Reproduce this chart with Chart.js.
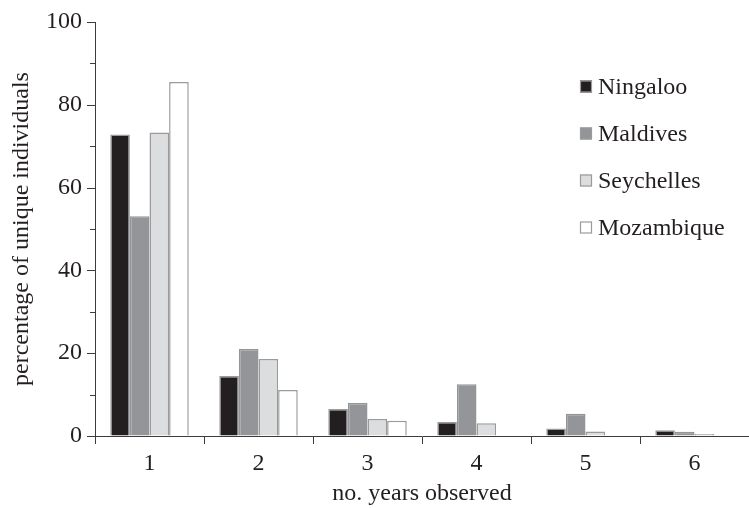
<!DOCTYPE html>
<html>
<head>
<meta charset="utf-8">
<script src="https://cdn.jsdelivr.net/npm/chart.js@4/dist/chart.umd.min.js"></script>
<style>
  html, body { margin: 0; padding: 0; background: #ffffff; }
  #wrap { width: 749px; height: 508px; position: relative; }
</style>
</head>
<body>
<div id="wrap"><canvas id="chart" width="749" height="508"></canvas></div>
<script>
// Years in which each individual was seen
const categories = ['1', '2', '3', '4', '5', '6'];

// Percentage of unique individuals per site
const ningaloo   = [72.8, 14.5, 6.5, 3.4, 1.8, 1.4];
const maldives   = [53.1, 21.0, 8.0, 12.5, 5.4, 1.0];
const seychelles = [73.3, 18.6, 4.1, 3.1, 1.1, 0.5];
const mozambique = [85.5, 11.1, 3.7, 0, 0, 0];

const seriesNames = ['Ningaloo', 'Maldives', 'Seychelles', 'Mozambique'];

const yMin = 0, yMax = 100, yMajorStep = 20, yMinorStep = 10;

const SERIF = '"Liberation Serif", "Times New Roman", serif';
const AXIS = '#3c3c3c';
const EDGE = '#9b9b9b';
const INK = '#231f20';

// Axis tick marks: long marks at labelled values, short ones between
const yTickMarks = {
  id: 'yTickMarks',
  afterDraw(chart) {
    const y = chart.scales.y;
    const ctx = chart.ctx;
    const x0 = y.right;
    ctx.save();
    ctx.strokeStyle = AXIS;
    ctx.lineWidth = 1;
    for (let v = yMin; v <= yMax; v += yMinorStep) {
      const py = Math.round(y.getPixelForValue(v)) + 0.5;
      const len = (v % yMajorStep === 0) ? 8 : 5;
      ctx.beginPath();
      ctx.moveTo(x0 - len, py);
      ctx.lineTo(x0, py);
      ctx.stroke();
    }
    ctx.restore();
  }
};

// Legend stacked inside the plot area on the right
const insideLegend = {
  id: 'insideLegend',
  afterDraw(chart) {
    const ctx = chart.ctx;
    const area = chart.chartArea;
    const boxX = area.left + 485;
    const firstY = area.top + 64.5;
    const gap = 47;
    const box = 12;
    ctx.save();
    ctx.font = '24px ' + SERIF;
    ctx.textBaseline = 'middle';
    ctx.textAlign = 'left';
    chart.data.datasets.forEach((ds, i) => {
      const cy = firstY + i * gap;
      ctx.fillStyle = ds.backgroundColor;
      ctx.fillRect(boxX, cy - box / 2, box, box);
      ctx.strokeStyle = EDGE;
      ctx.lineWidth = 1.2;
      ctx.strokeRect(boxX + 0.5, cy - box / 2 + 0.5, box - 1, box - 1);
      ctx.fillStyle = INK;
      ctx.fillText(ds.label, boxX + 18, cy + 1);
    });
    ctx.restore();
  }
};

const fills = ['#231f20', '#939598', '#dcdddf', '#ffffff'];
const values = [ningaloo, maldives, seychelles, mozambique];

new Chart(document.getElementById('chart'), {
  type: 'bar',
  data: {
    labels: categories,
    datasets: seriesNames.map((name, i) => ({
      label: name,
      data: values[i],
      backgroundColor: fills[i],
      borderColor: i === 1 ? fills[i] : EDGE,
      borderWidth: 1.5,
      categoryPercentage: 0.72,
      barPercentage: 1.0
    }))
  },
  options: {
    responsive: false,
    animation: false,
    devicePixelRatio: 1,
    layout: { padding: { top: 22, right: 0, bottom: 0, left: 0 } },
    plugins: {
      legend: { display: false },
      tooltip: { enabled: false }
    },
    scales: {
      x: {
        offset: true,
        grid: {
          offset: true,
          drawOnChartArea: false,
          drawTicks: true,
          tickLength: 8,
          color: AXIS
        },
        border: { display: true, color: AXIS, width: 1 },
        ticks: {
          color: INK,
          font: { family: SERIF, size: 24 },
          padding: 5,
          maxRotation: 0
        },
        title: {
          display: true,
          text: 'no. years observed',
          color: INK,
          font: { family: SERIF, size: 24 },
          padding: { top: 4, bottom: 0 }
        },
        afterFit(scale) {
          scale.height = 72;
          scale.paddingLeft = 0;
          scale.paddingRight = 0;
        }
      },
      y: {
        min: yMin,
        max: yMax,
        grid: { display: true, drawOnChartArea: false, drawTicks: false },
        border: { display: true, color: AXIS, width: 1 },
        ticks: {
          stepSize: yMinorStep,
          color: INK,
          font: { family: SERIF, size: 24 },
          padding: 13,
          callback: (v) => (v % yMajorStep === 0 ? String(v) : '')
        },
        title: {
          display: true,
          text: 'percentage of unique individuals',
          color: INK,
          font: { family: SERIF, size: 24 },
          padding: { top: 7, bottom: 0 }
        },
        afterFit(scale) {
          scale.width = 95;
          scale.paddingTop = 0;
          scale.paddingBottom = 0;
        }
      }
    }
  },
  plugins: [yTickMarks, insideLegend]
});
</script>
</body>
</html>
